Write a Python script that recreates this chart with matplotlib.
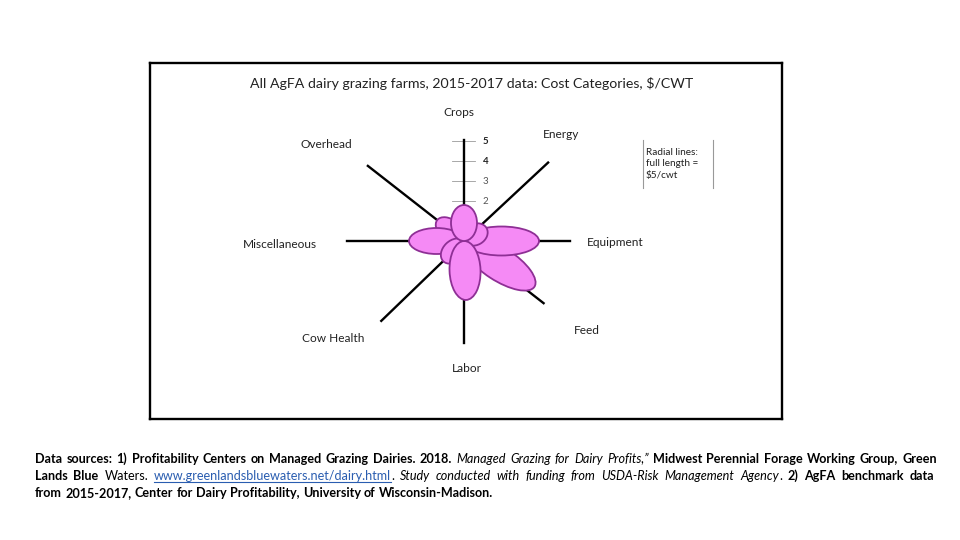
import matplotlib
matplotlib.use("Agg")
import matplotlib.pyplot as plt
from matplotlib.patches import Ellipse
from matplotlib.transforms import IdentityTransform
from matplotlib.lines import Line2D
import numpy as np

plt.rcParams["font.family"] = ["Lato", "DejaVu Sans"]

# cost categories, $/CWT
categories = ["Crops", "Energy", "Equipment", "Feed", "Labor", "Cow Health", "Miscellaneous", "Overhead"]
costs = [1.8, 1.3, 3.75, 4.2, 2.95, 1.45, 2.75, 1.7]
ticks = [2, 3, 4, 5]
title = "All AgFA dairy grazing farms, 2015-2017 data: Cost Categories, $/CWT"

# drawing style per direction (angles in degrees, lengths of the radial lines)
axis_ang = [90, 43, 0, -38, -90, -136, 180, 142]
axis_len = [5.05, 5.75, 5.3, 5.05, 5.1, 5.75, 5.85, 6.1]
petal_ang = [90, 30, 0, -33, -88, -136, 180, 142]
petal_w = [1.3, 1.05, 1.45, 1.65, 1.55, 1.05, 1.3, 1.05]
draw_order = [7, 6, 5, 3, 2, 1, 4, 0]

W, H = 960, 540
PX = 20.0          # pixels per $
CX, CY = 464, 241  # centre of the flower, image pixels


def px2d(x, y):
    return (x - CX) / PX, (CY - y) / PX


fig = plt.figure(figsize=(9.6, 5.4), dpi=100)
ax = fig.add_axes([150 / W, 1 - 419 / H, 632 / W, 356 / H])
x0, y1 = px2d(150, 63)
x1, y0 = px2d(782, 419)
ax.set_xlim(x0, x1)
ax.set_ylim(y0, y1)
ax.set_xticks([])
ax.set_yticks([])
for s in ax.spines.values():
    s.set_linewidth(1.7)
    s.set_color("black")

# radial lines
for a, L in zip(axis_ang, axis_len):
    t = np.deg2rad(a)
    ax.plot([0, L * np.cos(t)], [0, L * np.sin(t)], color="black", lw=1.7, zorder=1)

# tick marks on the Crops line
for v in ticks:
    ax.plot([-0.6, 0.55], [v, v], color="#9a9a9a", lw=0.6, zorder=0)
    ax.text(0.95, v, str(v), fontsize=7, va="center", ha="left",
            color="#222222" if v >= 4 else "#555555",
            fontweight="bold" if v >= 4 else "normal")

# petals
for i in draw_order:
    t = np.deg2rad(petal_ang[i])
    r = costs[i]
    ax.add_patch(Ellipse((r / 2 * np.cos(t), r / 2 * np.sin(t)), r, petal_w[i],
                         angle=petal_ang[i], facecolor="#f58af5",
                         edgecolor="#8e2f95", lw=1.3, zorder=3))

# category labels
label_px = [(459, 113), (561, 135), (587, 242), (574, 330), (467, 369),
            (333, 339), (280, 244), (326, 144)]
for name, (lx, ly) in zip(categories, label_px):
    ha = "left" if name in ("Equipment", "Feed") else "center"
    ax.text(*px2d(lx, ly), name, fontsize=8.6, ha=ha, va="center", color="#222222")

ax.text(*px2d(472, 83), title, fontsize=10.2, ha="center", va="center", color="#222222")

# note box
ax.plot(*zip(px2d(643, 140), px2d(643, 188)), color="#999999", lw=0.8)
ax.plot(*zip(px2d(713, 140), px2d(713, 188)), color="#999999", lw=0.8)
ax.text(*px2d(646, 164), "Radial lines:\nfull length =\n$5/cwt", fontsize=7.2,
        ha="left", va="center", linespacing=1.35, color="#222222")

# footer with mixed styles
B = dict(fontweight="bold", color="black")
R = dict(color="black")
I = dict(fontstyle="italic", color="black")
LK = dict(color="#2a5db0", underline=True)
line1 = [("Data sources: 1) Profitability Centers on Managed Grazing Dairies. 2018. ", B),
         ("Managed Grazing for Dairy Profits,” ", I),
         ("Midwest Perennial Forage Working Group, Green", B)]
line2 = [("Lands Blue ", B), ("Waters. ", R),
         ("www.greenlandsbluewaters.net/dairy.html", LK), (". ", R),
         ("Study conducted with funding from USDA-Risk Management Agency", I), (". ", R),
         ("2) AgFA benchmark data", B)]
line3 = [("from 2015-2017, Center for Dairy Profitability, University of Wisconsin-Madison.", B)]

renderer = fig.canvas.get_renderer()
FS = 9.05


def width(txt, st):
    kw = {k: v for k, v in st.items() if k != "underline"}
    t = fig.text(0, 0, txt, fontsize=FS, transform=IdentityTransform(), **kw)
    w = t.get_window_extent(renderer).width
    t.remove()
    return w


def put_line(line, xs, base, right=None):
    items = []
    pending = False
    for text, st in line:
        for k, p in enumerate(text.split(" ")):
            if k > 0:
                pending = True
            if p:
                items.append([p, st, pending])
                pending = False
    ws = [width(p, st) for p, st, g in items]
    sp = width("a a", R) - width("aa", R)
    gaps = sum(1 for it in items if it[2])
    extra = 0
    if right is not None and gaps:
        extra = (right - xs - sum(ws) - gaps * sp) / gaps
    x = xs
    for (p, st, g), w in zip(items, ws):
        if g:
            x += sp + extra
        kw = {k: v for k, v in st.items() if k != "underline"}
        fig.text(x, H - base, p, fontsize=FS, transform=IdentityTransform(),
                 va="baseline", ha="left", **kw)
        if st.get("underline"):
            fig.add_artist(Line2D([x, x + w], [H - base - 2, H - base - 2],
                                  transform=IdentityTransform(), color=st["color"], lw=0.8))
        x += w


put_line(line1, 35, 463, right=937)
put_line(line2, 35, 480, right=934)
put_line(line3, 35, 497)

fig.savefig("out.png", dpi=100)
